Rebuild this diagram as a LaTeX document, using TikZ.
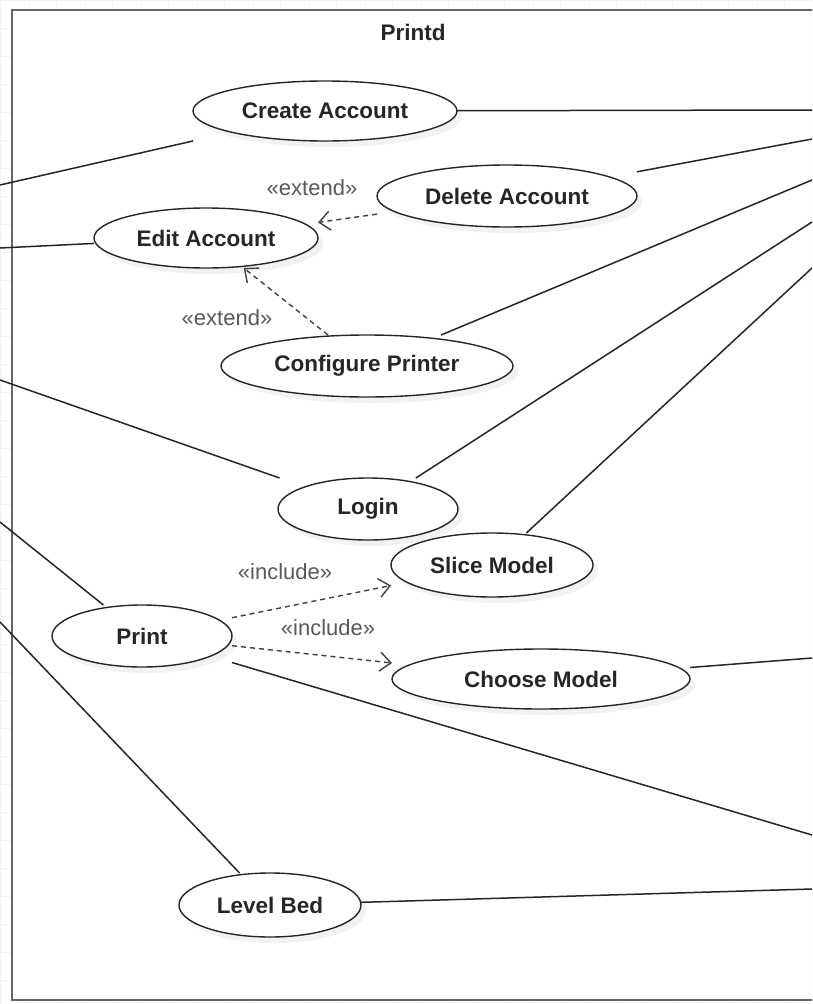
\documentclass[tikz,border=0pt]{standalone}
\usepackage{fontspec}
\setmainfont{Liberation Sans}
\usetikzlibrary{arrows.meta,shapes.geometric,shadows}
\tikzset{
  ucshape/.style={ellipse, draw=black!85, line width=1.4pt, fill=white, inner sep=0pt,
    drop shadow={shadow xshift=5pt, shadow yshift=-6pt, opacity=0.10}},
  ucbox/.style={rectangle, inner sep=0pt, outer sep=0pt,
    font=\fontsize{22.5}{27}\selectfont\bfseries, text=black!85},
  assoc/.style={draw=black!85, line width=1.5pt},
  dep/.style={draw=black!75, line width=1.4pt, dash pattern=on 5pt off 4pt,
    -{Straight Barb[length=11pt, width=19pt, line width=1.4pt]}},
  stereo/.style={font=\fontsize{22}{26}\selectfont, text=black!65},
  titlefont/.style={font=\fontsize{22.5}{27}\selectfont\bfseries, text=black!85},
  gridline/.style={draw=black!5, line width=0.6pt},
  boundary/.style={draw=black!60, line width=2.5pt, fill=white},
}
\newcommand\usecase[5]{%
  \node[ucshape, minimum width=#3pt, minimum height=#4pt] (#1e) at (#2) {};
  \node[ucbox, minimum width=#3pt, minimum height=#4pt] (#1) at (#2) {#5};}
\begin{document}
\begin{tikzpicture}[x=1pt,y=-1pt]
\useasboundingbox (0,0) rectangle (812,1004);
\clip (0,0) rectangle (812,1004);
% faint background grid
\draw[gridline, step=28pt] (-1,-1) grid (813,1005);
% system boundary
\draw[boundary] (12,10) rectangle (840,1000);
\node[titlefont] (title) at (413,32) {Printd};

% use cases
\usecase{create}{325,111}{264}{60}{Create Account}
\usecase{delete}{507,196}{260}{62}{Delete Account}
\usecase{edit}{206,238}{224}{60}{Edit Account}
\usecase{config}{367,366}{292}{62}{Configure Printer}
\usecase{login}{368,509}{180}{62}{Login}
\usecase{slice}{492,565}{202}{64}{Slice Model}
\usecase{print}{142,636}{180}{62}{Print}
\usecase{choose}{541,679}{298}{60}{Choose Model}
\usecase{level}{270,905}{182}{64}{Level Bed}

% free ends of associations (actors outside the view)
\coordinate (L1) at (0,185);
\coordinate (L2) at (0,248);
\coordinate (L3) at (0,380);
\coordinate (L4) at (0,522);
\coordinate (L5) at (0,622);
\coordinate (R1) at (812,110);
\coordinate (R2) at (812,139);
\coordinate (R3) at (812,180);
\coordinate (R4) at (812,222);
\coordinate (R5) at (812,268);
\coordinate (R6) at (812,658);
\coordinate (R7) at (812,835);
\coordinate (R8) at (812,889);

% associations
\draw[assoc] (L1) -- (create);
\draw[assoc] (L2) -- (edit);
\draw[assoc] (L3) -- (login);
\draw[assoc] (L4) -- (print);
\draw[assoc] (L5) -- (level);
\draw[assoc] (create) -- (R1);
\draw[assoc] (delete) -- (R2);
\draw[assoc] (config) -- (R3);
\draw[assoc] (login) -- (R4);
\draw[assoc] (slice) -- (R5);
\draw[assoc] (choose) -- (R6);
\draw[assoc] (print) -- (R7);
\draw[assoc] (level) -- (R8);

% dependencies
\draw[dep] (delete) -- (edit);
\draw[dep] (config) -- (edit);
\draw[dep] (print) -- (slice);
\draw[dep] (print) -- (choose);

% stereotypes
\node[stereo] (ext1) at (312,188) {«extend»};
\node[stereo] (ext2) at (227,318) {«extend»};
\node[stereo] (inc1) at (285,572) {«include»};
\node[stereo] (inc2) at (328,628) {«include»};
\end{tikzpicture}
\end{document}
